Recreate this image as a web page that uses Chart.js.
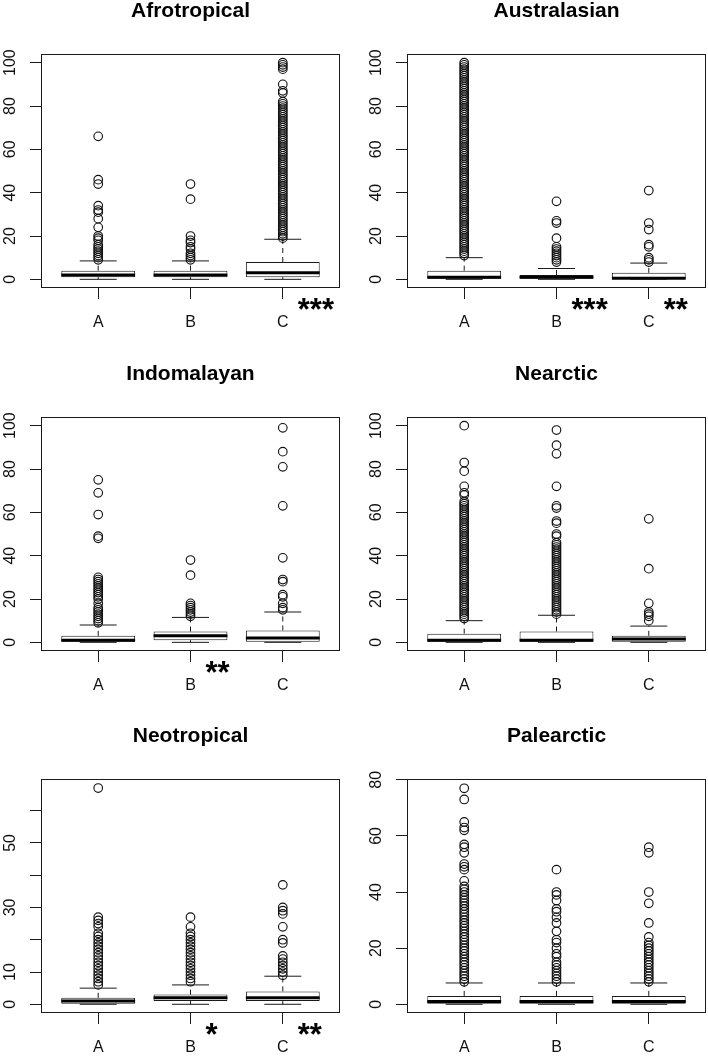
<!DOCTYPE html>
<html>
<head>
<meta charset="utf-8">
<script src="https://cdn.jsdelivr.net/npm/chart.js@4.4.1/dist/chart.umd.min.js"></script>
<style>
  body { margin: 0; background: #fff; }
  #wrap { position: relative; width: 708px; height: 1056px; overflow: hidden; background: #fff; }
  #wrap canvas { position: absolute; }
</style>
</head>
<body>
<div id="wrap"></div>
<script>
const categories = ['A', 'B', 'C'];

// boxplot stats per group: [lower whisker, Q1, median, Q3, upper whisker]
const afroStats = [[0, 1, 2, 4, 8.5], [0, 1, 2, 4, 8.5], [0, 1, 3, 8, 18.5]];
const afroOut = [
    [66, 46, 44, 34, 32, 31, 28, 24, 20, 19, 18, 16, 15, 14, 13, 12, 11, 10, 9],
    [44, 37, 20, 18, 17, 15, 14, 12, 11, 10, 9],
    [100, 99, 98, 97, 90, 87, 86, 82, 81, 80, 79, 78, 77, 76, 75, 74, 73, 72, 71, 70, 69, 68, 67, 66, 65,
     64, 63, 62, 61, 60, 59, 58, 57, 56, 55, 54, 53, 52, 51, 50, 49, 48, 47, 46, 45, 44, 43, 42, 41, 40,
     39, 38, 37, 36, 35, 34, 33, 32, 31, 30, 29, 28, 27, 26, 25, 24, 23, 22, 21, 20, 19]
];
const afroStars = ['', '', '***'];

const australStats = [[0, 0, 1, 4, 10], [0, 0, 1, 2, 5], [0, 0, 0.5, 3, 7.5]];
const australOut = [
    [100, 99, 98, 97, 96, 95, 94, 93, 92, 91, 90, 89, 88, 87, 86, 85, 84, 83, 82, 81, 80, 79, 78, 77, 76,
     75, 74, 73, 72, 71, 70, 69, 68, 67, 66, 65, 64, 63, 62, 61, 60, 59, 58, 57, 56, 55, 54, 53, 52, 51,
     50, 49, 48, 47, 46, 45, 44, 43, 42, 41, 40, 39, 38, 37, 36, 35, 34, 33, 32, 31, 30, 29, 28, 27, 26,
     25, 24, 23, 22, 21, 20, 19, 18, 17, 16, 15, 14, 13, 12, 11],
    [36, 27, 26, 19, 15, 14, 13, 12, 11, 10, 9, 8],
    [41, 26, 23, 16, 15, 10, 9, 8]
];
const australStars = ['', '***', '**'];

const indoStats = [[0, 0, 1, 3, 8], [0, 1, 3, 5, 11.5], [0, 0, 2, 5.5, 14]];
const indoOut = [
    [75, 69, 59, 49, 48, 30, 29, 28, 27, 26, 25, 24, 23, 22, 21, 20, 18, 16, 15, 14, 13, 12, 11, 10, 9],
    [38, 31, 18, 17, 16, 15, 14, 13, 12],
    [99, 88, 81, 63, 39, 29, 28, 22, 21, 18, 16, 15]
];
const indoStars = ['', '**', ''];

const nearStats = [[0, 0, 1, 4, 10], [0, 0, 1, 5, 12.5], [0, 0, 1.5, 3, 7.5]];
const nearOut = [
    [100, 83, 79, 72, 69, 68, 65, 64, 63, 62, 61, 60, 59, 58, 57, 56, 55, 54, 53, 52, 51, 50, 49, 48, 47,
     46, 45, 44, 43, 42, 41, 40, 39, 38, 37, 36, 35, 34, 33, 32, 31, 30, 29, 28, 27, 26, 25, 24, 23, 22,
     21, 20, 19, 18, 17, 16, 15, 14, 13, 12, 11],
    [98, 91, 87, 72, 63, 62, 56, 55, 50, 49, 46, 45, 44, 43, 42, 41, 40, 39, 38, 37, 36, 35, 34, 33, 32,
     31, 30, 29, 28, 27, 26, 25, 24, 23, 22, 21, 20, 19, 18, 17, 16, 15, 14, 13],
    [57, 34, 18, 14, 13, 12, 10]
];
const nearStars = ['', '', ''];

const neoStats = [[0, 0, 1, 2, 5], [0, 1, 2, 3, 6], [0, 1, 2, 4, 8.7]];
const neoOut = [
    [67, 27, 26, 25, 24, 22, 21, 20, 19, 18, 17, 16, 15, 14, 13, 12, 11, 10, 9, 8, 7, 6],
    [27, 24, 22, 21, 20, 19, 18, 17, 16, 15, 14, 13, 12, 11, 10, 9, 8, 7],
    [37, 30, 29, 28, 24, 20, 19, 15, 14, 13, 12, 11, 10, 9]
];
const neoStars = ['', '*', '**'];

const paleStats = [[0, 0, 1, 3, 7.6], [0, 0, 1, 3, 7.6], [0, 0, 1, 3, 7.6]];
const paleOut = [
    [77, 73, 65, 63, 62, 57, 56, 54, 50, 49, 48, 44, 42, 41, 40, 39, 38, 37, 36, 35, 34, 33, 32, 31, 30,
     29, 28, 27, 26, 25, 24, 23, 22, 21, 20, 19, 18, 17, 16, 15, 14, 13, 12, 11, 10, 9, 8],
    [48, 40, 39, 37, 34, 33, 31, 29, 26, 23, 22, 20, 18, 17, 15, 14, 13, 12, 11, 10, 9, 8],
    [56, 54, 40, 36, 29, 24, 22, 21, 20, 19, 18, 17, 16, 15, 14, 13, 12, 11, 10, 9, 8]
];
const paleStars = ['', '', ''];

// y axes
const pctTicks = [0, 20, 40, 60, 80, 100];
const pctLabels = [0, 20, 40, 60, 80, 100];
const pctRange = [-4, 104];
const neoTicks = [0, 10, 20, 30, 40, 50, 60];
const neoLabels = [0, 10, 30, 50];
const neoRange = [-2.7, 69.8];
const paleTicks = [0, 20, 40, 60, 80];
const paleLabels = [0, 20, 40, 60, 80];
const paleRange = [-3.1, 80.3];
const xRange = [0.38, 3.62];

const panels = [
    { title: 'Afrotropical', stats: afroStats, out: afroOut, stars: afroStars, ticks: pctTicks, labels: pctLabels, range: pctRange },
    { title: 'Australasian', stats: australStats, out: australOut, stars: australStars, ticks: pctTicks, labels: pctLabels, range: pctRange },
    { title: 'Indomalayan', stats: indoStats, out: indoOut, stars: indoStars, ticks: pctTicks, labels: pctLabels, range: pctRange },
    { title: 'Nearctic', stats: nearStats, out: nearOut, stars: nearStars, ticks: pctTicks, labels: pctLabels, range: pctRange },
    { title: 'Neotropical', stats: neoStats, out: neoOut, stars: neoStars, ticks: neoTicks, labels: neoLabels, range: neoRange },
    { title: 'Palearctic', stats: paleStats, out: paleOut, stars: paleStars, ticks: paleTicks, labels: paleLabels, range: paleRange }
];
// canvas placement (left, top) of each panel
const panelPos = [[0, 0], [366, 0], [0, 363], [366, 363], [0, 725], [366, 725]];

const FONT = '"Liberation Sans", Arial, Helvetica, sans-serif';
const INK = '#1a1a1a';
const TICK_SIZE = 16;
Chart.defaults.font.family = FONT;
Chart.defaults.color = '#111';

// centre the rotated y labels 11px from the left edge
function yPad(labels) {
    const ctx = document.createElement('canvas').getContext('2d');
    ctx.font = TICK_SIZE + 'px ' + FONT;
    const w = Math.max(...labels.map(l => ctx.measureText(String(l)).width));
    return 19 - w / 2;
}

// box frame + significance stars
const rFrame = {
    id: 'rFrame',
    afterDraw(chart, args, opts) {
        const { ctx, chartArea: a } = chart;
        ctx.save();
        ctx.strokeStyle = INK;
        ctx.lineWidth = 1;
        ctx.strokeRect(Math.round(a.left) + 0.5, Math.round(a.top) + 0.5, Math.round(a.width) - 1, Math.round(a.height) - 1);
        ctx.fillStyle = '#000';
        ctx.font = 'bold 31px ' + FONT;
        ctx.textAlign = 'left';
        ctx.textBaseline = 'alphabetic';
        opts.stars.forEach((s, i) => {
            if (!s) return;
            const x = chart.scales.x.getPixelForValue(i + 1) + 15;
            ctx.fillText(s, x, a.bottom + 32);
        });
        ctx.restore();
    }
};

const wrap = document.getElementById('wrap');

panels.forEach((p, k) => {
    const cv = document.createElement('canvas');
    cv.width = 342;
    cv.height = 330;
    cv.style.left = panelPos[k][0] + 'px';
    cv.style.top = panelPos[k][1] + 'px';
    wrap.appendChild(cv);

    const whiskers = [];
    const staples = [];
    p.stats.forEach((s, i) => {
        whiskers.push({ x: i + 1, y: s[3] }, { x: i + 1, y: s[4] }, { x: i + 1, y: null });
        whiskers.push({ x: i + 1, y: s[1] }, { x: i + 1, y: s[0] }, { x: i + 1, y: null });
        staples.push({ x: i + 1, y: s[0] }, { x: i + 1, y: s[4] });
    });
    const outliers = [];
    p.out.forEach((arr, i) => arr.forEach(v => outliers.push({ x: i + 1, y: v })));

    new Chart(cv, {
        type: 'bar',
        data: {
            datasets: [
                {
                    type: 'line',
                    data: whiskers,
                    borderColor: INK,
                    borderWidth: 1,
                    borderDash: [5, 4],
                    pointRadius: 0,
                    spanGaps: false,
                    order: 5
                },
                {
                    type: 'bar',
                    data: p.stats.map((s, i) => ({ x: i + 1, y: [s[1], s[3]] })),
                    backgroundColor: '#fff',
                    borderColor: INK,
                    borderWidth: 1,
                    borderSkipped: false,
                    barPercentage: 0.8,
                    categoryPercentage: 1,
                    order: 4
                },
                {
                    type: 'scatter',
                    data: p.stats.map((s, i) => ({ x: i + 1, y: s[2] })),
                    pointStyle: 'line',
                    pointRadius: 36.9,
                    pointBorderWidth: 3,
                    pointBorderColor: '#000',
                    order: 3
                },
                {
                    type: 'scatter',
                    data: staples,
                    pointStyle: 'line',
                    pointRadius: 18.5,
                    pointBorderWidth: 1,
                    pointBorderColor: INK,
                    order: 2
                },
                {
                    type: 'scatter',
                    data: outliers,
                    pointStyle: 'circle',
                    pointRadius: 4.3,
                    pointBorderWidth: 1.15,
                    pointBorderColor: '#111',
                    pointBackgroundColor: 'rgba(0,0,0,0)',
                    order: 1
                }
            ]
        },
        plugins: [rFrame],
        options: {
            responsive: false,
            animation: false,
            events: [],
            layout: { autoPadding: false, padding: { left: 0, right: 2, top: 0, bottom: 0 } },
            scales: {
                x: {
                    type: 'linear',
                    min: xRange[0],
                    max: xRange[1],
                    offset: false,
                    afterBuildTicks: s => { s.ticks = categories.map((c, i) => ({ value: i + 1 })); },
                    afterFit: s => { s.height = 42; },
                    border: { display: false },
                    grid: { offset: false, drawOnChartArea: false, drawTicks: true, tickLength: 11, color: INK },
                    ticks: {
                        color: '#111',
                        font: { size: TICK_SIZE },
                        padding: 14,
                        maxRotation: 0,
                        autoSkip: false,
                        callback: v => categories[v - 1]
                    }
                },
                y: {
                    type: 'linear',
                    min: p.range[0],
                    max: p.range[1],
                    afterBuildTicks: s => { s.ticks = p.ticks.map(v => ({ value: v })); },
                    afterFit: s => { s.width = 41; },
                    border: { display: false },
                    grid: { drawOnChartArea: false, drawTicks: true, tickLength: 11, color: INK },
                    ticks: {
                        color: '#111',
                        font: { size: TICK_SIZE },
                        minRotation: 90,
                        maxRotation: 90,
                        crossAlign: 'center',
                        padding: yPad(p.labels),
                        autoSkip: false,
                        callback: v => p.labels.includes(v) ? String(v) : ''
                    }
                }
            },
            plugins: {
                legend: { display: false },
                tooltip: { enabled: false },
                title: {
                    display: true,
                    text: p.title,
                    fullSize: false,
                    color: '#000',
                    font: { size: 21, weight: 'bold', lineHeight: 1 },
                    padding: { top: 0.5, bottom: 32.5 }
                },
                rFrame: { stars: p.stars }
            }
        }
    });
});
</script>
</body>
</html>
